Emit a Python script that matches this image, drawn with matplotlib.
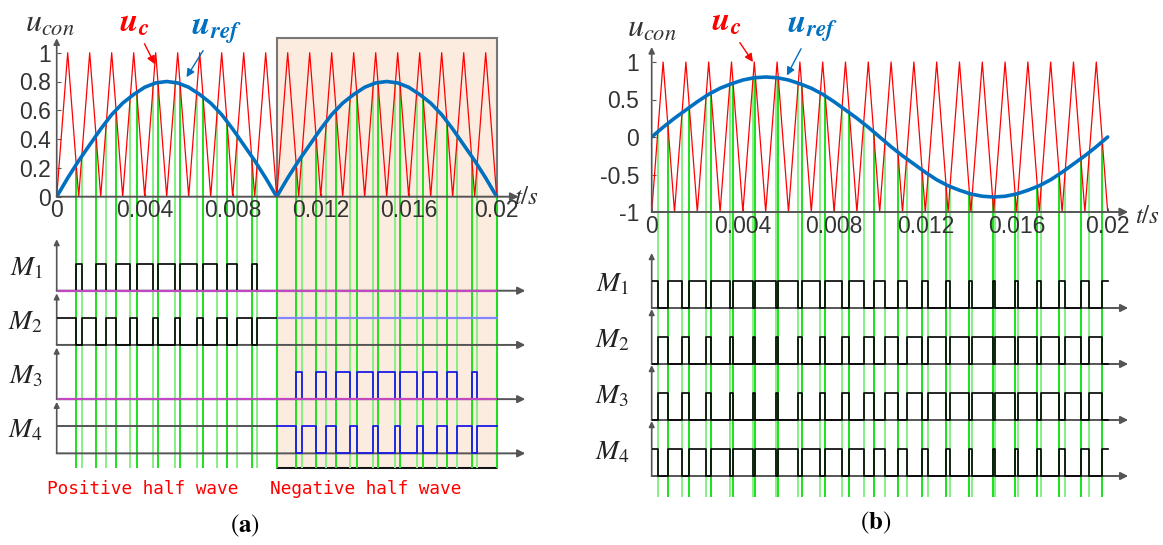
import numpy as np
import matplotlib.pyplot as plt
from matplotlib.patches import Rectangle
from matplotlib.transforms import blended_transform_factory

plt.rcParams['font.family'] = 'Liberation Sans'
plt.rcParams['mathtext.fontset'] = 'stix'

# sample grid (s): carrier vertices and reference samples, 0.5 ms apart
t = np.arange(41) * 0.0005
# triangular carriers (vertex values)
carrier_a = [0, 1] * 20 + [0]
carrier_b = [-1, 1] * 20 + [-1]
# reference wave
ref_half = [0, 0.13, 0.25, 0.36, 0.47, 0.57, 0.65, 0.71, 0.76, 0.79, 0.80,
            0.79, 0.76, 0.71, 0.65, 0.57, 0.47, 0.36, 0.25, 0.13]
ref_a = ref_half + ref_half + [0]
ref_b = ref_half + [-v for v in ref_half] + [0]

xticks = [0, 0.004, 0.008, 0.012, 0.016, 0.02]
xlabels = ['0', '0.004', '0.008', '0.012', '0.016', '0.02']
yticks_a = [0, 0.2, 0.4, 0.6, 0.8, 1]
ylabels_a = ['0', '0.2', '0.4', '0.6', '0.8', '1']
yticks_b = [-1, -0.5, 0, 0.5, 1]
ylabels_b = ['-1', '-0.5', '0', '0.5', '1']
m_names = ['$M_1$', '$M_2$', '$M_3$', '$M_4$']
m_base = [3, 2, 1, 0]

GREEN = ['#1ee01e', '#86ef86']
AX = '#555555'
W, H = 1163, 545


def box(l, r, top, bot):
    return [l / W, 1 - bot / H, (r - l) / W, (bot - top) / H]


def crossings(tt, r, c):
    d = np.asarray(r, float) - np.asarray(c, float)
    out = []
    for i in range(len(d) - 1):
        if d[i] * d[i + 1] < 0:
            f = d[i] / (d[i] - d[i + 1])
            out.append((tt[i] + f * (tt[i + 1] - tt[i]), r[i] + f * (r[i + 1] - r[i]), d[i] < 0))
    return out


def pwm(tt, r, c, t0, t1):
    edges = [x for x, _, _ in crossings(tt, r, c) if t0 < x < t1]
    ts = np.array([t0] + edges + [t1])
    mid = (ts[:-1] + ts[1:]) / 2
    s = (np.interp(mid, tt, r) > np.interp(mid, tt, c)).astype(float)
    return ts, np.append(s, s[-1])


def arrow(ax, p0, p1, color=AX, lw=1.4, ms=12):
    ax.annotate('', xy=p1, xytext=p0, annotation_clip=False,
                arrowprops=dict(arrowstyle='-|>', color=color, lw=lw,
                                mutation_scale=ms, shrinkA=0, shrinkB=0))


def top_axes(ax, ref, carrier, ylim, yticks, ylabels, tmax, greens, ypad):
    ax.patch.set_visible(False)
    ax.set_xlim(0, tmax)
    ax.set_ylim(*ylim)
    for s in ax.spines.values():
        s.set_visible(False)
    ax.plot(t, carrier, color='red', lw=0.9, zorder=2)
    ax.plot(t, ref, color='#0070c0', lw=2.6, zorder=3, solid_capstyle='round')
    for tc, vc, up in greens:
        ax.vlines(tc, ylim[0], vc, colors=GREEN[0] if up else GREEN[1], lw=1.4, zorder=1.5)
    arrow(ax, (0, ylim[0]), (tmax, ylim[0]))
    arrow(ax, (0, ylim[0]), (0, ylim[1]), ms=9, lw=1.2)
    ax.set_xticks(xticks, xlabels)
    ax.set_yticks(yticks, ylabels)
    ax.tick_params(direction='in', length=3, color=AX, labelsize=16.5,
                   labelcolor='#333333')
    ax.tick_params(axis='x', pad=2)
    ax.tick_params(axis='y', pad=ypad)


def m_axes(ax, ylim, tmax, tend, greens, lab_off, arr_h):
    ax.patch.set_visible(False)
    ax.set_xlim(0, tmax)
    ax.set_ylim(*ylim)
    ax.axis('off')
    for tc, vc, up in greens:
        ax.vlines(tc, ylim[0], ylim[1], colors=GREEN[0] if up else GREEN[1], lw=1.4, zorder=1.5)
    for name, b in zip(m_names, m_base):
        arrow(ax, (0, b), (tend, b), ms=11, lw=1.4)
        arrow(ax, (0, b), (0, b + arr_h), ms=8, lw=1.2)
        ax.annotate(name, xy=(0, b + 0.42), xytext=(-lab_off, 0),
                    textcoords='offset points', ha='right', va='center',
                    fontsize=20, color='#222222')


fig = plt.figure(figsize=(W / 100, H / 100), dpi=100)

# ---------------- (a) unipolar ----------------
ax_ma = fig.add_axes(box(56.7, 518.7, 196.7, 468))
ax_a = fig.add_axes(box(56.7, 518.7, 38.3, 196.7))
greens_a = crossings(t, ref_a, carrier_a) + [(0.01, 0, True), (0.02, 0, True)]
top_axes(ax_a, ref_a, carrier_a, (0, 1.1), yticks_a, ylabels_a, 0.021, greens_a, 4)
m_axes(ax_ma, (-0.27, 4.734), 0.021, 0.0213, greens_a, 10, 0.95)

# shaded negative half-wave region
tr = blended_transform_factory(ax_ma.transData, fig.transFigure)
ax_ma.add_patch(Rectangle((0.01, 1 - 468 / H), 0.01, (468 - 38) / H, transform=tr,
                          facecolor='#fcebdf', edgecolor='#777777', lw=1.5,
                          clip_on=False, zorder=0))
ax_ma.hlines(-0.27, 0.01, 0.02, colors='black', lw=1.2, clip_on=False, zorder=0.5)

ts, s = pwm(t, ref_a, carrier_a, 0, 0.01)
ax_ma.step(ts, 3 + 0.5 * s, where='post', color='black', lw=1.2, zorder=3)
ax_ma.step(ts, 2 + 0.5 * (1 - s), where='post', color='black', lw=1.2, zorder=3)
ax_ma.hlines(0.5, 0, 0.01, colors='#555555', lw=1.4, zorder=3)
ts, s = pwm(t, ref_a, carrier_a, 0.01, 0.02)
ax_ma.step(ts, 1 + 0.5 * s, where='post', color='#1a1ae6', lw=1.3, zorder=3)
ax_ma.step(ts, 0.5 * (1 - s), where='post', color='#1a1ae6', lw=1.3, zorder=3)
ax_ma.hlines(2.5, 0.01, 0.02, colors='#8484ff', lw=1.6, zorder=3)
ax_ma.hlines([3, 1], 0, 0.02, colors='#c048c0', lw=1.6, zorder=3.5)

fig.text(143 / W, 1 - 489 / H, 'Positive half wave', color='red',
         family='DejaVu Sans Mono', fontsize=12.8, ha='center', va='center')
fig.text(366 / W, 1 - 489 / H, 'Negative half wave', color='red',
         family='DejaVu Sans Mono', fontsize=12.8, ha='center', va='center')

# ---------------- (b) bipolar ----------------
ax_mb = fig.add_axes(box(651.7, 1128.2, 212, 497))
ax_b = fig.add_axes(box(651.7, 1128.2, 47, 212))
greens_b = crossings(t, ref_b, carrier_b)
top_axes(ax_b, ref_b, carrier_b, (-1, 1.2), yticks_b, ylabels_b, 0.0209, greens_b, 9)
m_axes(ax_mb, (-0.375, 4.714), 0.0209, 0.0209, greens_b, 16, 0.98)

ts, s = pwm(t, ref_b, carrier_b, 0, 0.02)
for b, sig in zip(m_base, [s, 1 - s, 1 - s, s]):
    ax_mb.step(ts, b + 0.48 * sig, where='post', color='black', lw=1.2, zorder=3)

# ---------------- labels ----------------
for ax, ucx, ucy, urx, ury, uc_tip, ur_tip, conx, cony in [
        (ax_a, 134, 23, 216, 30, (0.00446, 0.92), (0.0059, 0.83), 50, 24),
        (ax_b, 726, 22, 812, 28, (0.00444, 1.0), (0.00593, 0.82), 652, 29)]:
    fig.text(conx / W, 1 - cony / H, '$u_{con}$', fontsize=23, color='#333333',
             ha='center', va='center')
    ax.annotate(r'$\mathbfit{u}_{\mathbfit{c}}$', xy=uc_tip, xytext=(ucx / W, 1 - ucy / H),
                textcoords='figure fraction', ha='center', va='center',
                fontsize=24, color='red', annotation_clip=False,
                arrowprops=dict(arrowstyle='-|>', color='red', lw=1, mutation_scale=12,
                                shrinkA=2, shrinkB=0))
    ax.annotate(r'$\mathbfit{u}_{\mathbfit{ref}}$', xy=ur_tip, xytext=(urx / W, 1 - ury / H),
                textcoords='figure fraction', ha='center', va='center',
                fontsize=24, color='#0070c0', annotation_clip=False,
                arrowprops=dict(arrowstyle='-|>', color='#0070c0', lw=1, mutation_scale=12,
                                shrinkA=2, shrinkB=0))

fig.text(527 / W, 1 - 197 / H, '$t/s$', fontsize=18, color='#333333', ha='center', va='center')
fig.text(1148 / W, 1 - 216 / H, '$t/s$', fontsize=18, color='#333333', ha='center', va='center')
fig.text(245 / W, 1 - 526 / H, r'($\mathbf{a}$)', family='STIXGeneral', fontsize=18,
         ha='center', va='center')
fig.text(876 / W, 1 - 523 / H, r'($\mathbf{b}$)', family='STIXGeneral', fontsize=18,
         ha='center', va='center')

fig.savefig('out.png', dpi=100)
